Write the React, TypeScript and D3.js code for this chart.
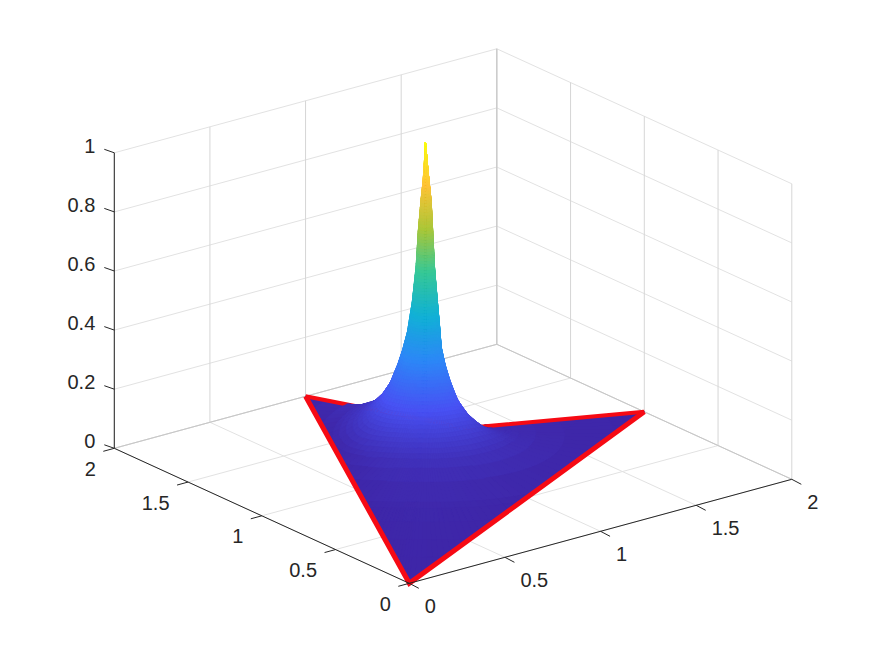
import React from "react";
import * as d3 from "d3";

const xTicks = [0, 0.5, 1, 1.5, 2];
const yTicks = [0, 0.5, 1, 1.5, 2];
const zTicks = [0, 0.2, 0.4, 0.6, 0.8, 1];
const xTickLabels = ["0", "0.5", "1", "1.5", "2"];
const yTickLabels = ["0", "0.5", "1", "1.5", "2"];
const zTickLabels = ["0", "0.2", "0.4", "0.6", "0.8", "1"];

// outline of the surface's domain (x, y) and its peak
const outlineX = [0, 2, 1.3, 1];
const outlineY = [0, 1, 1.3, 2];
const peakX = 1.095;
const peakY = 1.31;

const profileR = [0, 0.005, 0.01, 0.018, 0.03, 0.039, 0.055, 0.075, 0.095, 0.116, 0.15, 0.19, 0.25, 0.3, 0.39, 0.5, 0.7, 1.0, 1.5];
const profileZ = [1, 0.93, 0.87, 0.81, 0.7, 0.58, 0.46, 0.36, 0.3, 0.25, 0.185, 0.14, 0.095, 0.07, 0.038, 0.025, 0.012, 0.005, 0];
const profileRightR = [0, 0.012, 0.024, 0.037, 0.058, 0.065, 0.072, 0.095, 0.14, 0.25, 0.39, 0.5, 0.7, 1.0, 1.5];
const profileRightZ = [1, 0.9, 0.81, 0.58, 0.36, 0.25, 0.13, 0.06, 0.025, 0.022, 0.02, 0.015, 0.01, 0.005, 0];
const rightDirX = 0.95;
const rightDirY = -0.3;

const parulaStops = ["#3e26a8", "#4852f4", "#2d87f7", "#12b1d6", "#37c897", "#abc739", "#fec338", "#f9fb14"];

const sxX = d3.scaleLinear().domain([0, 2]).range([0, 382.5]);
const sxY = d3.scaleLinear().domain([0, 2]).range([0, -295]);
const syX = d3.scaleLinear().domain([0, 2]).range([0, -104]);
const syY = d3.scaleLinear().domain([0, 2]).range([0, -135]);
const syZ = d3.scaleLinear().domain([0, 1]).range([0, -295.5]);
const OX = 409.3;
const OY = 583.3;

const project = (x: number, y: number, z: number): [number, number] => [
  OX + sxX(x) + sxY(y),
  OY + syX(x) + syY(y) + syZ(z),
];
const depth = (x: number, y: number, z: number) => (147 * x + 191.5 * y) / 241 * 0.936 - 1.228 * z * 0.35;

const color = d3
  .scaleLinear<string>()
  .domain(parulaStops.map((_, i) => i / (parulaStops.length - 1)))
  .range(parulaStops)
  .interpolate(d3.interpolateRgb)
  .clamp(true);

const fProfile = d3.scaleLinear().domain(profileR).range(profileZ).clamp(true);
const fRight = d3.scaleLinear().domain(profileRightR).range(profileRightZ).clamp(true);

type Pt = { x: number; y: number; z: number; s: number };
const seg = (a: [number, number], b: [number, number]) => `M${a[0]},${a[1]}L${b[0]},${b[1]}`;

function buildMesh() {
  const nEdge = 40;
  const boundary: [number, number][] = [];
  outlineX.forEach((ox, i) => {
    const j = (i + 1) % outlineX.length;
    for (let k = 0; k < nEdge; k++) {
      const t = k / nEdge;
      boundary.push([ox + (outlineX[j] - ox) * t, outlineY[i] + (outlineY[j] - outlineY[i]) * t]);
    }
  });
  const levels = d3.range(1, 0.009, -0.01);
  const invertZ = d3.scaleLinear().domain(profileZ).range(profileR);
  const ringR = [...levels.map((z) => invertZ(z)), 0.85, 1.0, 1.2, 1.4, 1.6, 1.8];
  const rayPoints: Pt[][] = boundary.map(([bx, by]) => {
    const R = Math.hypot(bx - peakX, by - peakY);
    const cosA = ((bx - peakX) * rightDirX + (by - peakY) * rightDirY) / R;
    const w = Math.pow(Math.max(0, cosA), 4);
    const expo = 3 - 1.8 * w;
    return ringR.map((r) => {
      const s = Math.min(1, r / R);
      const rr = R * s;
      const base = fProfile(rr) * (1 - w) + fRight(rr) * w;
      return { x: peakX + (bx - peakX) * s, y: peakY + (by - peakY) * s, z: base * (1 - Math.pow(s, expo)), s };
    });
  });
  const quads: { d: string; fill: string; depth: number; z: number; edge: boolean }[] = [];
  for (let a = 0; a < rayPoints.length; a++) {
    const A = rayPoints[a];
    const B = rayPoints[(a + 1) % rayPoints.length];
    for (let i = 0; i < ringR.length - 1; i++) {
      const q = [A[i], A[i + 1], B[i + 1], B[i]];
      if (Math.abs(A[i].x - A[i + 1].x) + Math.abs(A[i].y - A[i + 1].y) + Math.abs(B[i].x - B[i + 1].x) + Math.abs(B[i].y - B[i + 1].y) < 1e-9) continue;
      const z = d3.mean(q, (p) => p.z) as number;
      const dpt = d3.mean(q, (p) => depth(p.x, p.y, p.z)) as number;
      const d = "M" + q.map((p) => project(p.x, p.y, p.z).map((v) => v.toFixed(2)).join(",")).join("L") + "Z";
      const edge = (d3.max(q, (p) => p.s) as number) > 0.8;
      quads.push({ d, fill: color(z), depth: dpt, z, edge });
    }
  }
  quads.sort((a, b) => b.depth - a.depth);
  return quads;
}

const FONT = "'Liberation Sans', Arial, sans-serif";
const GRID = "#e2e2e2";
const GRID_V = "#d6d6d6";
const BOX = "#c6c6c6";
const AXIS = "#262626";
const RED = "#f60a14";

export default function App() {
  const quads = React.useMemo(buildMesh, []);
  const isLow = (q: { z: number; edge: boolean }) => q.z < 0.02 || (q.edge && q.z < 0.15);
  const low = quads.filter(isLow);
  const high = quads.filter((q) => !isLow(q));
  const grid: string[] = [];
  const gridV: string[] = [];
  xTicks.forEach((x) => {
    grid.push(seg(project(x, 0, 0), project(x, 2, 0)));
    gridV.push(seg(project(x, 2, 0), project(x, 2, 1)));
  });
  yTicks.forEach((y) => {
    grid.push(seg(project(0, y, 0), project(2, y, 0)));
    gridV.push(seg(project(2, y, 0), project(2, y, 1)));
  });
  zTicks.forEach((z) => {
    grid.push(seg(project(0, 2, z), project(2, 2, z)));
    grid.push(seg(project(2, 2, z), project(2, 0, z)));
  });
  const box =
    seg(project(0, 2, 0), project(2, 2, 0)) +
    seg(project(2, 2, 0), project(2, 0, 0)) +
    seg(project(2, 2, 0), project(2, 2, 1));
  const corners = outlineX.map((x, i) => project(x, outlineY[i], 0));
  const basePath = "M" + corners.map((c) => c.join(",")).join("L") + "Z";
  return (
    <svg width={875} height={656} style={{ position: "absolute", left: 0, top: 0, background: "#fff" }}>
      <path d={grid.join("")} stroke={GRID} strokeWidth={1} fill="none" />
      <path d={gridV.join("")} stroke={GRID_V} strokeWidth={1} fill="none" />
      <path d={box} stroke={BOX} strokeWidth={1} fill="none" />
      <path d={basePath} fill={color(0)} />
      {low.map((q, i) => (
        <path key={i} d={q.d} fill={q.fill} stroke={q.fill} strokeWidth={0.9} />
      ))}
      <path d={seg(corners[1], corners[2]) + seg(corners[2], corners[3])} stroke={RED} strokeWidth={4} fill="none" />
      {high.map((q, i) => (
        <path key={i} d={q.d} fill={q.fill} stroke={q.fill} strokeWidth={0.7} />
      ))}
      <path d={`M${corners[3][0]},${corners[3][1]}L${corners[0][0]},${corners[0][1]}L${corners[1][0]},${corners[1][1]}`} stroke={RED} strokeWidth={5} strokeLinejoin="miter" fill="none" />

      <path d={seg(project(0, 0, 0), project(2, 0, 0)) + seg(project(0, 0, 0), project(0, 2, 0)) + seg(project(0, 2, 0), project(0, 2, 1))} stroke={AXIS} strokeWidth={1} fill="none" />
      {xTicks.map((x, i) => {
        const [px, py] = project(x, 0, 0);
        return (
          <g key={"x" + i}>
            <line x1={px} y1={py} x2={px + 9.5} y2={py + 5} stroke={AXIS} />
            <text x={px + 15.5} y={py + 30} fontFamily={FONT} fontSize={20} fill={AXIS} textAnchor="start">{xTickLabels[i]}</text>
          </g>
        );
      })}
      {yTicks.map((y, i) => {
        const [px, py] = project(0, y, 0);
        return (
          <g key={"y" + i}>
            <line x1={px} y1={py} x2={px - 11} y2={py + 3} stroke={AXIS} />
            <text x={px - 18.5} y={py + 27.5} fontFamily={FONT} fontSize={20} fill={AXIS} textAnchor="end">{yTickLabels[i]}</text>
          </g>
        );
      })}
      {zTicks.map((z, i) => {
        const [px, py] = project(0, 2, z);
        return (
          <g key={"z" + i}>
            <line x1={px} y1={py} x2={px - 10} y2={py - 3.5} stroke={AXIS} />
            <text x={px - 19} y={py} fontFamily={FONT} fontSize={20} fill={AXIS} textAnchor="end">{zTickLabels[i]}</text>
          </g>
        );
      })}
    </svg>
  );
}
